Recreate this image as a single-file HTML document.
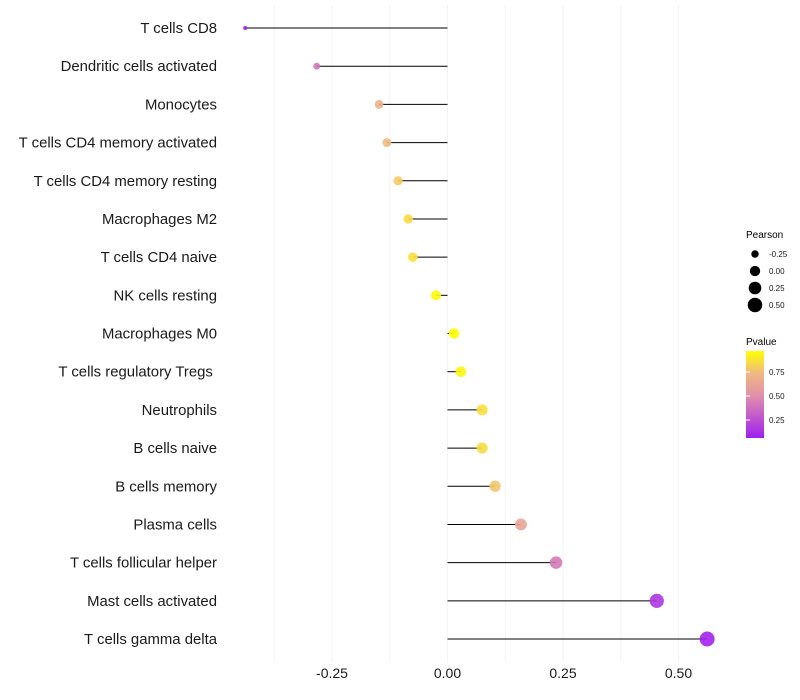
<!DOCTYPE html>
<html><head><meta charset="utf-8"><style>
body{margin:0;background:#fff;}
svg{display:block;font-family:"Liberation Sans",sans-serif;}
</style></head><body>
<svg id="chart" width="800" height="700">
<defs><linearGradient id="pg" x1="0" y1="1" x2="0" y2="0">
<stop offset="0" stop-color="#a020f0"/><stop offset="0.5" stop-color="#e292a8"/><stop offset="0.75" stop-color="#f0ba80"/><stop offset="1" stop-color="#ffff00"/>
</linearGradient></defs>
<g id="grid"></g>
<g id="marks"></g>
<g id="ylab"></g>
<g id="xlab"></g>
<g font-size="10">
<text x="746" y="238">Pearson</text>
<g id="sizeLeg"></g>
</g>
<g>
<text x="746" y="345" font-size="10">Pvalue</text>
<rect x="746" y="351" width="18" height="87" fill="url(#pg)"/>
<g id="colLeg" font-size="8"></g>
</g>
</svg>
<script>
const categories=["T cells CD8","Dendritic cells activated","Monocytes","T cells CD4 memory activated","T cells CD4 memory resting","Macrophages M2","T cells CD4 naive","NK cells resting","Macrophages M0","T cells regulatory  Tregs\u00a0","Neutrophils","B cells naive","B cells memory","Plasma cells","T cells follicular helper","Mast cells activated","T cells gamma delta"];
const pearson=[-0.438,-0.283,-0.148,-0.131,-0.107,-0.085,-0.075,-0.025,0.014,0.029,0.075,0.075,0.103,0.159,0.235,0.453,0.562];
const pvalue=[0.03,0.4,0.68,0.74,0.8,0.85,0.87,0.95,0.98,0.94,0.86,0.85,0.78,0.62,0.42,0.15,0.07];
const xTicks=[-0.25,0,0.25,0.5];
const xTickLabels=["-0.25","0.00","0.25","0.50"];
const sizeLegVals=[-0.25,0,0.25,0.5];
const colLegVals=[0.25,0.5,0.75];

const NS="http://www.w3.org/2000/svg";
const x=v=>447.5+v*462;
const y=i=>28+i*(611/16);
const r=v=>Math.sqrt(Math.max(1,4+52*(v+0.438)));
function hex(h){return [1,3,5].map(k=>parseInt(h.substr(k,2),16));}
const stops=[[0,"#a020f0"],[0.5,"#e292a8"],[0.75,"#f0ba80"],[1,"#ffff00"]];
function col(p){const t=Math.min(1,Math.max(0,(p-0.06)/(0.97-0.06)));
for(let k=1;k<stops.length;k++){if(t<=stops[k][0]){const a=hex(stops[k-1][1]),b=hex(stops[k][1]);const f=(t-stops[k-1][0])/(stops[k][0]-stops[k-1][0]);return "rgb("+a.map((c,j)=>Math.round(c+(b[j]-c)*f)).join(",")+")";}}return stops[3][1];}
function mk(tag,attrs,parent){const e=document.createElementNS(NS,tag);for(const k in attrs)e.setAttribute(k,attrs[k]);parent.appendChild(e);return e;}

const grid=document.getElementById('grid');
for(let g=-0.375;g<=0.5001;g+=0.125){
const l=mk('line',{x1:x(g),x2:x(g),y1:5,y2:662,stroke:'#f3f3f3','stroke-width':1},grid);

}
const marks=document.getElementById('marks'),ylab=document.getElementById('ylab'),xlab=document.getElementById('xlab');
categories.forEach((c,i)=>{
const s=mk('line',{x1:x(0),x2:x(pearson[i]),y1:y(i),y2:y(i),stroke:'#000','stroke-width':1},marks);


const p=mk('circle',{cx:x(pearson[i]),cy:y(i),r:r(pearson[i]),fill:col(pvalue[i]),'fill-opacity':0.9},marks);


const t=mk('text',{x:217,y:y(i)+5,'text-anchor':'end','font-size':14.9,fill:'#1a1a1a','xml:space':'preserve'},ylab);t.textContent=c;


});
xTicks.forEach((v,i)=>{const t=mk('text',{x:x(v),y:678,'text-anchor':'middle','font-size':14,fill:'#1a1a1a'},xlab);t.textContent=xTickLabels[i];

});
const sl=document.getElementById('sizeLeg');
sizeLegVals.forEach((v,i)=>{const cy=254+i*17;
const c=mk('circle',{cx:755,cy:cy,r:r(v),fill:'#000'},sl);


const t=mk('text',{x:769,y:cy+3,'font-size':8,fill:'#1a1a1a'},sl);t.textContent=v.toFixed(2);

});
const cl=document.getElementById('colLeg');
colLegVals.forEach(v=>{const yy=372+(0.75-v)*96;
const t=mk('text',{x:769,y:yy+3,fill:'#1a1a1a'},cl);t.textContent=v.toFixed(2);


const tk=mk('line',{x1:746,x2:750,y1:yy,y2:yy,stroke:'#fff'},cl);

});
</script>
</body></html>
